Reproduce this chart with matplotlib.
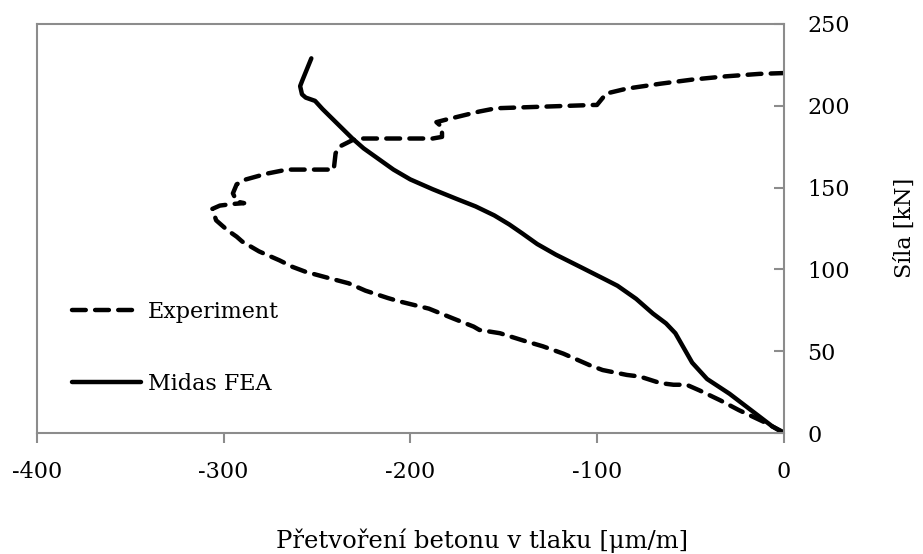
import matplotlib.pyplot as plt

# Experiment (dashed) - strain [um/m] vs force [kN]
exp_strain = [0, -1, -11, -24, -34, -45, -52, -59, -66, -77, -84, -97, -104, -108,
              -118, -129, -138, -152, -163, -166, -177, -190, -206, -212, -224, -233,
              -243, -256, -263, -270, -281, -290, -293, -298, -304, -306, -302, -295,
              -289, -293, -295, -293, -288, -277, -266, -241, -240, -238, -231, -227,
              -206, -188, -183, -183, -186, -181, -163, -154, -102, -100, -95, -84,
              -66, -49, -31, -13, 0]
exp_force = [0, 1, 7, 14, 20, 26, 29.5, 29.5, 30.5, 34.5, 35.5, 38.5, 41.5, 43.5,
             48.5, 53, 56, 61, 63, 65, 70, 76, 80.5, 82.5, 87, 91.5,
             94.5, 98.5, 101.5, 105.5, 111, 117, 120, 124, 130, 137, 139, 140,
             140.5, 141.5, 146.5, 152, 155, 158.5, 161, 161, 171, 175, 179, 180,
             180, 180, 181, 187, 190, 191.5, 196.5, 198.5, 200.5, 200.5, 207.5, 210.5,
             213.5, 216, 218, 219.5, 220]

# Midas FEA (solid)
fea_strain = [0, -6, -29, -41, -49, -54, -58, -63, -70, -79, -89, -95, -108, -122,
              -132, -140, -147, -155, -165, -175, -188, -200, -209, -225, -231, -247,
              -251, -256, -258, -259, -258, -253]
fea_force = [0, 4, 24, 33, 43, 53, 61, 67, 73, 82, 90, 93.5, 101, 109,
             115.5, 122, 127.5, 133, 138.5, 143, 149, 155, 161, 174, 180, 198,
             203, 205, 207, 212, 215, 229]

x_ticks = [-400, -300, -200, -100, 0]
y_ticks = [0, 50, 100, 150, 200, 250]

plt.rcParams['font.family'] = ['DejaVu Serif']

fig = plt.figure(figsize=(9.23, 5.54), dpi=100)
ax = fig.add_axes([0.040, 0.2184, 0.809, 0.7383])

ax.plot(exp_strain, exp_force, color='black', lw=3.2, linestyle=(0, (3.1, 2.1)),
        dash_capstyle='round', solid_capstyle='round', label='Experiment')
ax.plot(fea_strain, fea_force, color='black', lw=3.2, solid_capstyle='round',
        label='Midas FEA')

ax.set_xlim(-400, 0)
ax.set_ylim(0, 250)
ax.set_xticks(x_ticks)
ax.set_yticks(y_ticks)
ax.set_xticklabels([str(v) for v in x_ticks])

gray = '#8c8c8c'
for s in ax.spines.values():
    s.set_color(gray)
    s.set_linewidth(1.5)

ax.yaxis.tick_right()
ax.tick_params(axis='x', direction='out', length=7, width=1.5, color=gray,
               labelsize=16, pad=13)
ax.tick_params(axis='y', direction='in', length=7, width=1.5, color=gray,
               labelsize=16, pad=17)

ax.legend(loc='upper left', bbox_to_anchor=(0.0, 0.41), frameon=False,
          fontsize=16, handlelength=3.1, handletextpad=0.3, labelspacing=2.25,
          borderaxespad=1.2)

fig.text(905 / 923, 1 - 228 / 554, 'Síla [kN]', rotation=90, ha='center',
         va='center', fontsize=16)
fig.text(482 / 923, 1 - 541 / 554, 'Přetvoření betonu v tlaku [μm/m]',
         ha='center', va='center', fontsize=17.5)

fig.savefig('out.png', dpi=100)
